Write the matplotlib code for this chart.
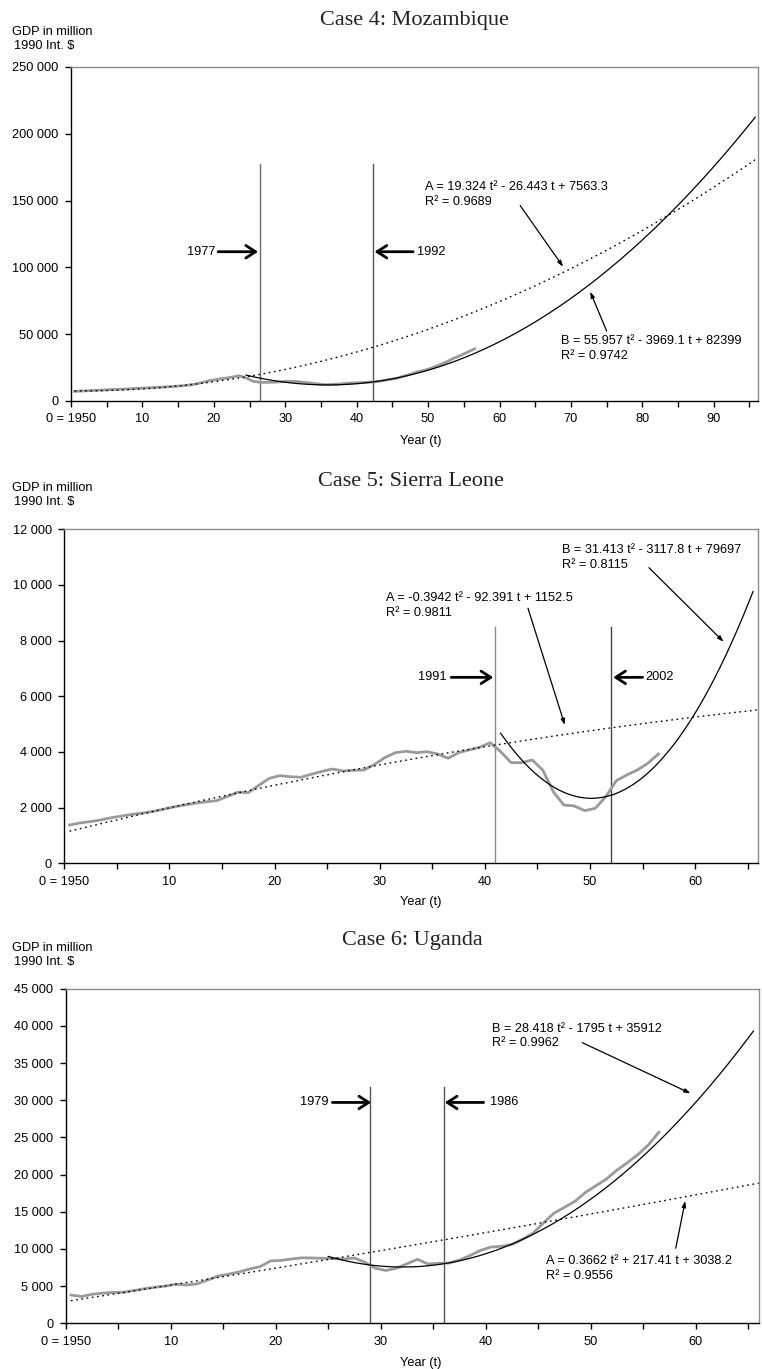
import numpy as np
import matplotlib
matplotlib.use('Agg')
from matplotlib import pyplot as plt

plt.rcParams['font.family'] = ['Liberation Sans', 'DejaVu Sans']

# GDP in million 1990 Int. $, one value per year 1950..2006 (t = year - 1950)
years = np.arange(1950, 2007)

moz_gdp = [7200, 7450, 7700, 7950, 8200, 8450, 8700, 8950, 9200, 9500,
           9750, 10000, 10300, 10600, 10950, 11300, 11900, 12700, 14000, 15300,
           16200, 17000, 17800, 18900, 17300, 14700, 14000, 13900, 14100, 14400,
           14700, 14600, 14000, 13500, 12800, 12200, 12300, 12700, 13200, 13500,
           13700, 14000, 14300, 15000, 16000, 16800, 18500, 20000, 21800, 23000,
           24600, 26800, 29000, 31800, 34000, 36500, 39000]

sl_gdp = [1376, 1450, 1500, 1560, 1640, 1700, 1760, 1810, 1870, 1950,
          2030, 2100, 2160, 2210, 2250, 2400, 2550, 2537, 2800, 3053,
          3148, 3110, 3090, 3200, 3300, 3388, 3316, 3340, 3352, 3550,
          3800, 3975, 4024, 3975, 4010, 3927, 3773, 3975, 4071, 4168,
          4333, 4010, 3615, 3615, 3712, 3352, 2573, 2095, 2059, 1890,
          1976, 2393, 2968, 3173, 3352, 3593, 3927]

ug_gdp = [3806, 3600, 3900, 4050, 4150, 4170, 4400, 4650, 4850, 5000,
          5250, 5150, 5300, 5800, 6350, 6600, 6900, 7300, 7600, 8380,
          8450, 8650, 8800, 8780, 8740, 8700, 8650, 8780, 8200, 7400,
          7100, 7400, 8000, 8600, 7980, 8070, 8100, 8500, 9100, 9800,
          10250, 10350, 10600, 11300, 12100, 13500, 14800, 15600, 16400, 17600,
          18500, 19400, 20600, 21600, 22700, 24000, 25700]

# quadratic trends (t^2, t, const) as printed on the chart
moz_fit_a = [19.324, -26.443, 7563.3]
moz_fit_b = [55.957, -3969.1, 82399]
sl_fit_a = [-0.3942, 92.391, 1152.5]
sl_fit_b = [31.413, -3117.8, 79697]
ug_fit_a = [0.3662, 217.41, 3038.2]
ug_fit_b = [28.418, -1795, 35912]

# t-range over which each trend is drawn
moz_span_a, moz_span_b = (0, 95.5), (24, 95.3)
sl_span_a, sl_span_b = (0, 65.5), (41, 65)
ug_span_a, ug_span_b = (0, 65.5), (24.5, 65)

moz_labels_a = 'A = 19.324 t\u00b2 - 26.443 t + 7563.3\nR\u00b2 = 0.9689'
moz_labels_b = 'B = 55.957 t\u00b2 - 3969.1 t + 82399\nR\u00b2 = 0.9742'
sl_labels_a = 'A = -0.3942 t\u00b2 - 92.391 t + 1152.5\nR\u00b2 = 0.9811'
sl_labels_b = 'B = 31.413 t\u00b2 - 3117.8 t + 79697\nR\u00b2 = 0.8115'
ug_labels_a = 'A = 0.3662 t\u00b2 + 217.41 t + 3038.2\nR\u00b2 = 0.9556'
ug_labels_b = 'B = 28.418 t\u00b2 - 1795 t + 35912\nR\u00b2 = 0.9962'

moz_breaks = [26.4, 42.3]
sl_breaks = [41.0, 52.0]
ug_breaks = [29.0, 36.0]
moz_break_years = ['1977', '1992']
sl_break_years = ['1991', '2002']
ug_break_years = ['1979', '1986']

SHIFT = 0.5  # points sit mid-category, as in the spreadsheet chart
FS = 9.2
BOLD_ARROW = '->,head_length=0.7,head_width=0.45'

fig = plt.figure(figsize=(7.62, 13.69), dpi=100)


def px(y):
    return 1 - y / 1369.0


def draw_case(rect, title, ymax, ystep, xmax, gdp, fit_a, span_a, fit_b, span_b,
              breaks, break_years, break_top, arrow_y, break_cols, title_y, gdp_y, year_y,
              break_text, lab_a, lab_b):
    ax = fig.add_axes(rect)
    t = years - 1950
    ax.plot(t + SHIFT, gdp, color='#9a9a9a', lw=2.0, zorder=3)

    ta = np.linspace(span_a[0], span_a[1], 300)
    ax.plot(ta + SHIFT, np.polyval(fit_a, ta), color='black', lw=1.0,
            linestyle=(0, (1.2, 2.6)), zorder=4)
    tb = np.linspace(span_b[0], span_b[1], 300)
    ax.plot(tb + SHIFT, np.polyval(fit_b, tb), color='black', lw=0.9, zorder=4)

    for xb, col in zip(breaks, break_cols):
        ax.plot([xb, xb], [0, break_top], color=col, lw=1.0, zorder=2)

    # bold arrows pointing at the break lines
    (lt, l0, l1), (r0, r1, rt) = break_text
    ax.annotate('', xy=(l1, arrow_y), xytext=(l0, arrow_y),
                arrowprops=dict(arrowstyle=BOLD_ARROW, lw=2.0, color='black', shrinkA=0, shrinkB=0))
    ax.text(lt, arrow_y, break_years[0], ha='right', va='center', fontsize=FS)
    ax.annotate('', xy=(r0, arrow_y), xytext=(r1, arrow_y),
                arrowprops=dict(arrowstyle=BOLD_ARROW, lw=2.0, color='black', shrinkA=0, shrinkB=0))
    ax.text(rt, arrow_y, break_years[1], ha='left', va='center', fontsize=FS)

    for lab, (tx, ty, a0, a1) in ((lab_a[0], lab_a[1]), (lab_b[0], lab_b[1])):
        ax.text(tx, ty, lab, ha='left', va='center', fontsize=FS, linespacing=1.3)
        ax.annotate('', xy=a1, xytext=a0,
                    arrowprops=dict(arrowstyle='-|>,head_length=0.35,head_width=0.12', lw=0.9,
                                    color='black', shrinkA=0, shrinkB=0))

    ax.set_xlim(0, xmax)
    ax.set_ylim(0, ymax)
    xt = np.arange(0, xmax, 5)
    ax.set_xticks(xt)
    ax.set_xticklabels(['0 = 1950' if v == 0 else (str(int(v)) if v % 10 == 0 else '') for v in xt])
    yt = np.arange(0, ymax + 1, ystep)
    ax.set_yticks(yt)
    ax.set_yticklabels(['{:,}'.format(int(v)).replace(',', ' ') for v in yt])
    ax.tick_params(axis='both', direction='out', length=4, width=1, labelsize=FS, colors='black')
    ax.tick_params(axis='x', pad=5)
    ax.tick_params(axis='y', pad=5)
    for s in ('top', 'right'):
        ax.spines[s].set_color('#8c8c8c')
        ax.spines[s].set_linewidth(1.0)
    for s in ('left', 'bottom'):
        ax.spines[s].set_color('black')
        ax.spines[s].set_linewidth(1.0)

    cx = rect[0] + rect[2] / 2
    fig.text(cx, px(title_y), title, ha='center', va='center', fontsize=16,
             family=['Liberation Serif', 'DejaVu Serif'], color='#222222')
    fig.text(12 / 762, px(gdp_y), 'GDP in million', ha='left', va='center', fontsize=FS)
    fig.text(14 / 762, px(gdp_y + 14), '1990 Int. $', ha='left', va='center', fontsize=FS)
    fig.text(421 / 762, px(year_y), 'Year (t)', ha='center', va='center', fontsize=FS)
    return ax


draw_case([0.0932, 0.7071, 0.9016, 0.2440], 'Case 4: Mozambique', 250000, 50000, 96.2,
          moz_gdp, moz_fit_a, moz_span_a, moz_fit_b, moz_span_b,
          moz_breaks, moz_break_years, 177000, 111700, ['#6e6e6e', '#555555'],
          20, 32, 441,
          ((20.2, 20.6, 26.2), (42.5, 47.9, 48.4)),
          (moz_labels_a, (49.5, 154700, (62.9, 146200), (68.9, 100500))),
          (moz_labels_b, (68.6, 39500, (75.0, 52400), (72.7, 81800))))

draw_case([0.0844, 0.3694, 0.9107, 0.2440], 'Case 5: Sierra Leone', 12000, 2000, 66.0,
          sl_gdp, sl_fit_a, sl_span_a, sl_fit_b, sl_span_b,
          sl_breaks, sl_break_years, 8480, 6680, ['#8a8a8a', '#444444'],
          482, 488, 902,
          ((36.35, 36.8, 40.8), (52.2, 55.0, 55.3)),
          (sl_labels_a, (30.6, 9270, (44.1, 9160), (47.6, 4970))),
          (sl_labels_b, (47.3, 10980, (55.6, 10620), (62.7, 7960))))

draw_case([0.0862, 0.0334, 0.9103, 0.2444], 'Case 6: Uganda', 45000, 5000, 66.06,
          ug_gdp, ug_fit_a, ug_span_a, ug_fit_b, ug_span_b,
          ug_breaks, ug_break_years, 31800, 29700, ['#555555', '#555555'],
          941, 948, 1363,
          ((25.0, 25.4, 29.1), (36.1, 39.8, 40.4)),
          (ug_labels_a, (45.7, 7350, (58.1, 10090), (59.0, 16450))),
          (ug_labels_b, (40.6, 38620, (49.2, 37740), (59.5, 30930))))

fig.savefig('out.png', dpi=100)
